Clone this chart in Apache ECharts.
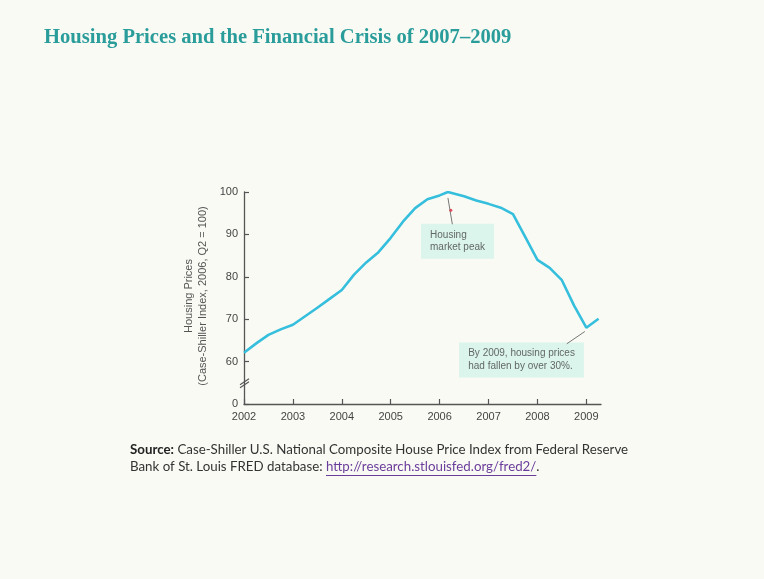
<!DOCTYPE html>
<html>
<head>
<meta charset="utf-8">
<script src="https://cdn.jsdelivr.net/npm/echarts@6/dist/echarts.min.js"></script>
<style>
html,body{margin:0;padding:0;background:#fafaf5;}
#chart{width:764px;height:579px;}
</style>
</head>
<body>
<div id="chart"></div>
<script>
// ---- data ----
var years = [2002.0, 2002.25, 2002.5, 2002.75, 2003.0, 2003.25, 2003.5, 2003.75,
             2004.0, 2004.25, 2004.5, 2004.75, 2005.0, 2005.25, 2005.5, 2005.75,
             2006.0, 2006.17, 2006.5, 2006.75, 2007.0, 2007.25, 2007.5, 2007.75,
             2008.0, 2008.25, 2008.5, 2008.75, 2009.0, 2009.25];
var prices = [62.1, 64.3, 66.3, 67.6, 68.7, 70.7, 72.7, 74.8,
              76.9, 80.5, 83.4, 85.8, 89.2, 93.0, 96.2, 98.3,
              99.2, 100.0, 99.0, 98.0, 97.2, 96.3, 94.8, 89.4,
              84.0, 82.1, 79.2, 73.2, 68.0, 70.1];
var xTicks = [2002, 2003, 2004, 2005, 2006, 2007, 2008, 2009];
var yTicks = [50, 60, 70, 80, 90, 100];
var yTickLabels = ['0', '60', '70', '80', '90', '100'];
var axisBreakAt = [2002, 55];
// annotation anchors: left edge of the box, vertical centre
var peakNote = {x: 2005.62, y: 88.4, text: 'Housing\nmarket peak'};
var peakLeader = [[2006.17, 98.6], [2006.26, 92.4]];
var dropNote = {x: 2006.40, y: 60.4, text: 'By 2009, housing prices\nhad fallen by over 30%.'};
var dropLeader = [[2008.60, 64.2], [2008.97, 67.1]];
var redMarks = [[2006.17, 100.2], [2006.23, 95.7]];

var titleText = 'Housing Prices and the Financial Crisis of 2007\u20132009';
var srcBold = 'Source:';
var srcLine1 = ' Case-Shiller U.S. National Composite House Price Index from Federal Reserve';
var srcLine2 = 'Bank of St. Louis FRED database: ';
var srcLink = 'http://research.stlouisfed.org/fred2/';
var srcEnd = '.';

var lineData = years.map(function (x, i) { return [x, prices[i]]; });

var chart = echarts.init(document.getElementById('chart'), null, {renderer: 'canvas'});

// text metrics for the source lines
var srcFont = '13.3px Lato';
var ctx = document.createElement('canvas').getContext('2d');
ctx.font = 'bold ' + srcFont;
var boldW = ctx.measureText(srcBold).width;
ctx.font = srcFont;
var l2W = ctx.measureText(srcLine2).width;
var linkW = ctx.measureText(srcLink).width;
var srcX = 130;

var option = {
  backgroundColor: '#fafaf5',
  animation: false,
  grid: {left: 244, top: 192, width: 357, height: 212, containLabel: false},
  xAxis: {
    type: 'value', min: 2002, max: 2009.3, interval: 1,
    axisLine: {show: true, onZero: false, lineStyle: {color: '#555', width: 1.3}},
    axisTick: {show: true, inside: true, length: 5, customValues: xTicks, lineStyle: {color: '#555', width: 1.2}},
    axisLabel: {customValues: xTicks, color: '#444', fontSize: 11, fontFamily: 'Liberation Sans', margin: 7,
                formatter: function (v) { return String(v); }},
    splitLine: {show: false}
  },
  yAxis: {
    type: 'value', min: 50, max: 100, interval: 10,
    axisLine: {show: true, lineStyle: {color: '#555', width: 1.3}},
    axisTick: {show: true, inside: true, length: 5, customValues: yTicks, lineStyle: {color: '#555', width: 1.2}},
    axisLabel: {customValues: yTicks, color: '#444', fontSize: 11, fontFamily: 'Liberation Sans', margin: 6,
                formatter: function (v) { var i = yTicks.indexOf(v); return i >= 0 ? yTickLabels[i] : ''; }},
    splitLine: {show: false},
    name: 'Housing Prices\n(Case-Shiller Index, 2006, Q2 = 100)',
    nameLocation: 'middle', nameRotate: 90, nameGap: 34,
    nameTextStyle: {color: '#555', fontSize: 11, lineHeight: 14, fontFamily: 'Liberation Sans', align: 'center',
                    padding: [0, 0, 0, 4]}
  },
  graphic: [
    {type: 'text', left: 44, top: 27, style: {text: titleText, fill: '#2a9d9b',
      font: 'bold 20.6px "Liberation Serif"'}},
    {type: 'text', left: srcX, top: 443, style: {text: srcBold, fill: '#222', font: 'bold ' + srcFont}},
    {type: 'text', left: srcX + boldW, top: 443, style: {text: srcLine1, fill: '#333', font: srcFont}},
    {type: 'text', left: srcX, top: 460, style: {text: srcLine2, fill: '#333', font: srcFont}},
    {type: 'text', left: srcX + l2W, top: 460, style: {text: srcLink, fill: '#6a3d9a', font: srcFont}},
    {type: 'rect', left: srcX + l2W, top: 475, shape: {width: linkW, height: 1}, style: {fill: '#6a3d9a'}},
    {type: 'text', left: srcX + l2W + linkW, top: 460, style: {text: srcEnd, fill: '#333', font: srcFont}}
  ],
  series: [
    {
      type: 'line', data: lineData, showSymbol: false, smooth: false,
      lineStyle: {color: '#35bfdc', width: 2.6}, z: 3,
      markLine: {
        silent: true, symbol: ['none', 'none'], label: {show: false},
        lineStyle: {color: '#777', width: 1, type: 'solid'},
        data: [
          [{coord: peakLeader[0]}, {coord: peakLeader[1]}],
          [{coord: dropLeader[0]}, {coord: dropLeader[1]}]
        ]
      }
    },
    {
      type: 'scatter', symbolSize: 0, z: 4,
      data: [[peakNote.x, peakNote.y, peakNote.text], [dropNote.x, dropNote.y, dropNote.text]],
      label: {
        show: true, position: 'inside',
        formatter: function (p) { return p.value[2]; },
        backgroundColor: '#d3f3ea', color: '#444', fontSize: 10, lineHeight: 12.5,
        fontFamily: 'Liberation Sans', align: 'left', padding: [5, 9, 5, 9]
      }
    },
    {
      type: 'scatter', data: redMarks, z: 6,
      symbolSize: function (v, p) { return p.dataIndex === 0 ? 6 : 3; },
      itemStyle: {color: '#e0283c'}
    },
    {
      type: 'custom', data: [axisBreakAt], z: 5, silent: true,
      renderItem: function (params, api) {
        var c = api.coord([api.value(0), api.value(1)]);
        return {
          type: 'group',
          children: [
            {type: 'line', shape: {x1: c[0] - 4, y1: c[1] + 2, x2: c[0] + 5, y2: c[1] - 4},
             style: {stroke: '#555', lineWidth: 1.2}},
            {type: 'line', shape: {x1: c[0] - 4, y1: c[1] + 5, x2: c[0] + 5, y2: c[1] - 1},
             style: {stroke: '#555', lineWidth: 1.2}}
          ]
        };
      }
    }
  ]
};
chart.setOption(option);
</script>
</body>
</html>
